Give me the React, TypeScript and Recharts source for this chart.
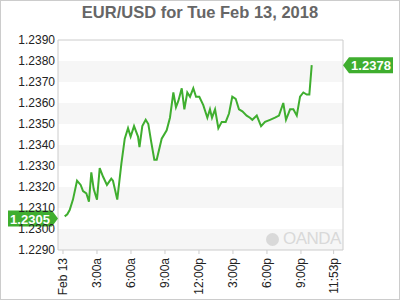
import { LineChart, Line, XAxis, YAxis, ReferenceArea, ReferenceLine, ReferenceDot } from 'recharts';

// hours since Feb 13 00:00
const times = [
  0.15, 0.38, 0.59, 0.88, 1.24, 1.56, 1.77, 2.06, 2.29, 2.5, 2.71, 3.0, 3.24, 3.53, 3.88, 4.26, 4.41,
  4.79, 5.15, 5.45, 5.74, 5.97, 6.27, 6.62, 6.75, 7.0, 7.3, 7.53, 7.77, 8.06, 8.27, 8.71, 9.15, 9.44,
  9.74, 9.97, 10.18, 10.48, 10.71, 10.97, 11.21, 11.5, 11.74, 12.03, 12.38, 12.74, 12.97, 13.15, 13.42,
  13.71, 14.01, 14.36, 14.65, 14.94, 15.24, 15.53, 15.83, 16.21, 16.5, 16.71, 17.1, 17.48, 17.83,
  18.27, 18.71, 19.06, 19.44, 19.68, 20.04, 20.33, 20.63, 20.92, 21.21, 21.51, 21.74, 21.95,
];
const prices = [
  1.2306, 1.2307, 1.2309, 1.2314, 1.2323, 1.2321, 1.2318, 1.2317, 1.2313, 1.2327, 1.2319, 1.2314,
  1.2329, 1.2325, 1.2321, 1.2324, 1.2323, 1.2314, 1.2331, 1.2343, 1.2348, 1.2344, 1.2349, 1.2344,
  1.2339, 1.2349, 1.2352, 1.235, 1.2342, 1.2333, 1.2333, 1.2343, 1.2347, 1.2353, 1.2365, 1.2358,
  1.2361, 1.2367, 1.2357, 1.2365, 1.2363, 1.2367, 1.2363, 1.2363, 1.2359, 1.2353, 1.2357, 1.2353,
  1.2357, 1.2348, 1.2351, 1.2351, 1.2355, 1.2363, 1.2362, 1.2357, 1.2356, 1.2354, 1.2353, 1.2352,
  1.2354, 1.2349, 1.2351, 1.2352, 1.2353, 1.2354, 1.236, 1.2352, 1.2357, 1.2357, 1.2354, 1.2363,
  1.2365, 1.2364, 1.2364, 1.2378,
];

const xTicks = [0, 3, 6, 9, 12, 15, 18, 21, 23.883];
const xTickLabels = ['Feb 13', '3:00a', '6:00a', '9:00a', '12:00p', '3:00p', '6:00p', '9:00p', '11:53p'];
const yTicks = [1.229, 1.23, 1.231, 1.232, 1.233, 1.234, 1.235, 1.236, 1.237, 1.238, 1.239];
const bands = [
  [1.229, 1.23],
  [1.231, 1.232],
  [1.233, 1.234],
  [1.235, 1.236],
  [1.237, 1.238],
];
const openPrice = 1.2305;
const lastPrice = 1.2378;

const data = times.map((t, i) => ({ t, price: prices[i] }));

const GREEN = '#3fae2f';
const FONT = '"Liberation Sans", Arial, sans-serif';

const XTick = (props: any) => {
  const { x, y, payload } = props;
  const idx = xTicks.indexOf(payload.value);
  return (
    <text
      x={x + 4}
      y={y + 2}
      transform={`rotate(-90 ${x + 4} ${y + 2})`}
      textAnchor="end"
      fontSize={12}
      fontFamily={FONT}
      fill="#222"
    >
      {xTickLabels[idx]}
    </text>
  );
};

// badge on the left axis, arrow pointing right into the plot
const LeftBadge = (props: any) => {
  const { cx, cy } = props;
  const w = 50;
  const h = 16;
  return (
    <g>
      <path
        d={`M${cx - w} ${cy - h / 2} L${cx - 6} ${cy - h / 2} L${cx} ${cy} L${cx - 6} ${cy + h / 2} L${cx - w} ${cy + h / 2} Z`}
        fill={GREEN}
      />
      <text x={cx - w / 2 - 3} y={cy + 5} textAnchor="middle" fontSize={13} fontWeight="bold" fontFamily={FONT} fill="#fff">
        {openPrice.toFixed(4)}
      </text>
    </g>
  );
};

// badge on the right axis, arrow pointing left
const RightBadge = (props: any) => {
  const { cx, cy } = props;
  const w = 50;
  const h = 16;
  return (
    <g>
      <path
        d={`M${cx} ${cy} L${cx + 6} ${cy - h / 2} L${cx + w} ${cy - h / 2} L${cx + w} ${cy + h / 2} L${cx + 6} ${cy + h / 2} Z`}
        fill={GREEN}
      />
      <text x={cx + w / 2 + 3} y={cy + 5} textAnchor="middle" fontSize={13} fontWeight="bold" fontFamily={FONT} fill="#fff">
        {lastPrice.toFixed(4)}
      </text>
    </g>
  );
};

export default function App() {
  return (
    <div style={{ position: 'absolute', left: 0, top: 0, width: 400, height: 300, background: '#fff', fontFamily: FONT }}>
      <div
        style={{
          position: 'absolute',
          top: 3,
          left: 0,
          width: 400,
          textAlign: 'center',
          fontSize: 16.5,
          fontWeight: 'bold',
          color: '#666',
        }}
      >
        EUR/USD for Tue Feb 13, 2018
      </div>
      <LineChart width={400} height={300} data={data} margin={{ top: 40, right: 0, bottom: 0, left: 0 }}>
        {bands.map(([y1, y2], i) => (
          <ReferenceArea key={i} yAxisId="l" y1={y1} y2={y2} fill="#f6f6f6" fillOpacity={1} stroke="none" />
        ))}
        <ReferenceLine yAxisId="l" y={1.239} stroke="#ccc" />
        <XAxis
          type="number"
          dataKey="t"
          domain={[-0.44, 24.71]}
          ticks={xTicks}
          allowDataOverflow
          height={50}
          tick={<XTick />}
          tickSize={4}
          stroke="#ccc"
          interval={0}
        />
        <YAxis
          yAxisId="l"
          orientation="left"
          width={58}
          domain={[1.229, 1.239]}
          ticks={yTicks}
          interval={0}
          tickFormatter={(v: number) => v.toFixed(4)}
          tick={{ fontSize: 12, fill: '#222', fontFamily: FONT }}
          tickLine={false}
          tickSize={1}
          tickMargin={2}
          stroke="#ccc"
        />
        <YAxis
          yAxisId="r"
          orientation="right"
          width={57}
          domain={[1.229, 1.239]}
          ticks={yTicks}
          interval={0}
          tickFormatter={(v: number) => v.toFixed(4)}
          tick={{ fontSize: 12, fill: '#222', fontFamily: FONT }}
          tickSize={4}
          tickMargin={1}
          stroke="#ccc"
        />
        <Line
          yAxisId="l"
          type="linear"
          dataKey="price"
          stroke={GREEN}
          strokeWidth={2}
          dot={false}
          isAnimationActive={false}
        />
        <ReferenceDot yAxisId="l" x={-0.44} y={openPrice} ifOverflow="visible" shape={<LeftBadge />} />
        <ReferenceDot yAxisId="l" x={24.71} y={lastPrice} ifOverflow="visible" shape={<RightBadge />} />
      </LineChart>
      <div
        style={{
          position: 'absolute',
          left: 266,
          top: 229,
          fontSize: 17,
          color: '#d9d9d9',
          letterSpacing: -0.5,
          display: 'flex',
          alignItems: 'center',
          gap: 4,
        }}
      >
        <span
          style={{
            display: 'inline-block',
            width: 13,
            height: 13,
            borderRadius: '50%',
            background: '#d9d9d9',
          }}
        />
        OANDA
      </div>
      <div
        style={{
          position: 'absolute',
          left: 0,
          top: 0,
          width: 400,
          height: 300,
          boxSizing: 'border-box',
          border: '1px solid #ccc',
          pointerEvents: 'none',
        }}
      />
    </div>
  );
}
